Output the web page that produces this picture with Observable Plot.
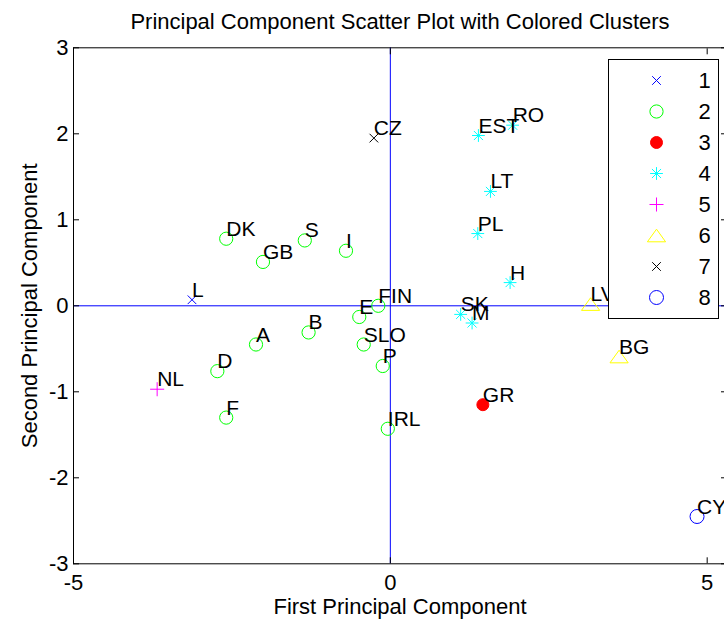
<!DOCTYPE html>
<html><head><meta charset="utf-8">
<script src="https://cdn.jsdelivr.net/npm/d3@7"></script>
<script src="https://cdn.jsdelivr.net/npm/@observablehq/plot@0.6"></script>
<style>
html,body{margin:0;padding:0;background:#fff;overflow:hidden;}
#wrap{position:relative;width:724px;height:624px;overflow:hidden;background:#fff;}
#chart{position:absolute;left:0;top:0;}
#legend{position:absolute;left:608px;top:59px;}
#legend svg{border:1px solid #000;background:#fff;display:block;}
</style></head>
<body>
<div id="wrap"><div id="chart"></div><div id="legend"></div></div>
<script>
const names   = ["L","DK","GB","S","I","FIN","E","B","A","SLO","P","D","F","IRL","GR","EST","RO","LT","PL","H","SK","M","NL","LV","BG","CZ","CY"];
const pc1     = [-3.13,-2.59,-2.01,-1.35,-0.70,-0.19,-0.49,-1.29,-2.12,-0.42,-0.12,-2.73,-2.59,-0.04,1.46,1.39,1.93,1.58,1.38,1.89,1.11,1.29,-3.68,3.16,3.61,-0.26,4.84];
const pc2     = [0.07,0.78,0.51,0.76,0.64,0.00,-0.13,-0.31,-0.45,-0.45,-0.70,-0.76,-1.30,-1.43,-1.15,1.98,2.10,1.33,0.84,0.27,-0.10,-0.20,-0.97,0.02,-0.59,1.95,-2.45];
const cluster = ["1","2","2","2","2","2","2","2","2","2","2","2","2","2","3","4","4","4","4","4","4","4","5","6","6","7","8"];
const clusterLabels = ["1","2","3","4","5","6","7","8"];
const xTicks = [-5, 0, 5];
const yTicks = [-3, -2, -1, 0, 1, 2, 3];
const titleText = "Principal Component Scatter Plot with Colored Clusters";
const xLabel = "First Principal Component";
const yLabel = "Second Principal Component";

const points = names.map((n, i) => ({name: n, x: pc1[i], y: pc2[i], cluster: cluster[i]}));

const triangleUp = {draw(ctx, size) {
  const s = Math.sqrt(size / Math.PI);
  ctx.moveTo(0, -0.9 * s); ctx.lineTo(1.3 * s, 0.9 * s); ctx.lineTo(-1.3 * s, 0.9 * s); ctx.closePath();
}};
const clusterStyle = {
  "1": [{symbol: "times", r: 4, stroke: "#0000ff", fill: "none"}],
  "2": [{symbol: "circle", r: 6.6, stroke: "#00ff00", fill: "none"}],
  "3": [{symbol: "circle", r: 6, stroke: "#ff0000", fill: "#ff0000"}],
  "4": [{symbol: "plus", r: 4.2, stroke: "#00ffff", fill: "none"}, {symbol: "times", r: 4.2, stroke: "#00ffff", fill: "none"}],
  "5": [{symbol: "plus", r: 4.6, stroke: "#ff00ff", fill: "none"}],
  "6": [{symbol: triangleUp, r: 7, stroke: "#ffff00", fill: "none"}],
  "7": [{symbol: "times", r: 4, stroke: "#000000", fill: "none"}],
  "8": [{symbol: "circle", r: 7, stroke: "#0000ff", fill: "none"}]
};

const FONT = "'Liberation Sans', Arial, Helvetica, sans-serif";

const dotMarks = [];
for (const c of clusterLabels) {
  for (const st of clusterStyle[c]) {
    dotMarks.push(Plot.dot(points.filter(d => d.cluster === c), {x: "x", y: "y", ...st, strokeWidth: 1}));
  }
}

const chart = Plot.plot({
  width: 760, height: 624,
  marginLeft: 73, marginRight: 34, marginTop: 47.3, marginBottom: 60.7,
  style: {fontFamily: FONT, maxWidth: "none", background: "#fff", color: "#000"},
  x: {domain: [-5, 5.305], label: null},
  y: {domain: [-3, 3], label: null},
  marks: [
    Plot.ruleY([0], {stroke: "#0000ff", strokeWidth: 1}),
    Plot.ruleX([0], {stroke: "#0000ff", strokeWidth: 1}),
    Plot.frame({stroke: "#000", strokeWidth: 1}),
    Plot.axisX({anchor: "bottom", ticks: xTicks, tickSize: -6, tickPadding: 16.7, fontSize: 22, label: null, tickFormat: d => String(d)}),
    Plot.axisX({anchor: "top", ticks: xTicks, tickSize: -6, tickFormat: () => "", label: null}),
    Plot.axisY({anchor: "left", ticks: yTicks, tickSize: -6, tickPadding: 11, fontSize: 22, label: null, tickFormat: d => String(d)}),
    Plot.axisY({anchor: "right", ticks: yTicks, tickSize: -6, tickFormat: () => "", label: null}),
    ...dotMarks,
    Plot.text(points, {x: "x", y: "y", text: "name", textAnchor: "start", lineAnchor: "bottom", dy: -3, fontSize: 21, fill: "#000"}),
    Plot.text([titleText], {frameAnchor: "top", lineAnchor: "bottom", dy: -19.3, fontSize: 22, fill: "#000"}),
    Plot.text([xLabel], {frameAnchor: "bottom", lineAnchor: "bottom", dy: 50.5, fontSize: 22, fill: "#000"}),
    Plot.text([yLabel], {frameAnchor: "left", rotate: -90, textAnchor: "middle", lineAnchor: "bottom", dx: -37, fontSize: 22, fill: "#000"})
  ]
});
document.getElementById("chart").appendChild(chart);

const legendMarks = [];
for (const c of clusterLabels) {
  for (const st of clusterStyle[c]) {
    legendMarks.push(Plot.dot([c], {y: d => d, frameAnchor: "left", dx: 47, ...st, strokeWidth: 1}));
  }
}
const legend = Plot.plot({
  width: 109, height: 258,
  marginLeft: 0, marginRight: 0, marginTop: 18, marginBottom: 20,
  style: {fontFamily: FONT, maxWidth: "none", background: "#fff", color: "#000"},
  y: {type: "point", domain: clusterLabels, padding: 0, axis: null},
  marks: [
    ...legendMarks,
    Plot.text(clusterLabels, {y: d => d, text: d => d, frameAnchor: "left", dx: 95, textAnchor: "middle", lineAnchor: "middle", fontSize: 22, fill: "#000"})
  ]
});
document.getElementById("legend").appendChild(legend);
</script>
</body></html>
